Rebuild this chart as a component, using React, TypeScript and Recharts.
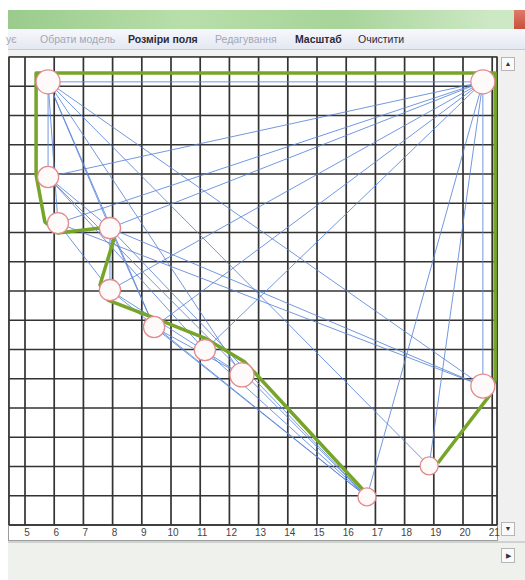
import React from 'react';
import { ScatterChart, Scatter, XAxis, YAxis, ZAxis, CartesianGrid } from 'recharts';

// Graph nodes (grid units)
const nodeX = [5.79, 5.79, 6.13, 7.91, 7.91, 9.42, 11.16, 12.43, 16.71, 18.84, 20.68, 20.68];
const nodeY = [15.15, 11.9, 10.32, 10.15, 8.03, 6.77, 5.98, 5.13, 0.96, 2.02, 4.75, 15.15];
const nodeWeight = [3, 2, 2, 2, 2, 2, 2, 3, 1, 1, 3, 3];

// Graph edges (blue), node index pairs
const edgeFrom = [11, 11, 11, 11, 11, 11, 11, 11, 11, 11, 0, 0, 0, 0, 0, 0, 0, 1, 1, 1, 2, 3, 3, 3, 3, 4, 4, 5, 5, 6, 2];
const edgeTo = [0, 1, 2, 3, 4, 5, 6, 8, 9, 10, 1, 2, 3, 5, 7, 9, 10, 3, 6, 8, 10, 10, 4, 5, 8, 7, 8, 7, 8, 8, 4];

// Route (green path)
const pathX = [16.71, 12.53, 11.16, 9.42, 7.84, 7.57, 8.18, 6.13, 5.68, 5.38, 5.38, 21.1, 21.1, 20.92, 19.14];
const pathY = [1.06, 5.57, 6.39, 7.08, 7.69, 8.21, 10.22, 9.98, 10.36, 11.97, 15.45, 15.45, 4.96, 4.44, 2.12];

const xTicks = [5, 6, 7, 8, 9, 10, 11, 12, 13, 14, 15, 16, 17, 18, 19, 20, 21];
const yTicks = [1, 2, 3, 4, 5, 6, 7, 8, 9, 10, 11, 12, 13, 14, 15];

const menuItems = ['ує', 'Обрати модель', 'Розміри поля', 'Редагування', 'Масштаб', 'Очистити'];
const menuEnabled = [false, false, true, false, true, true];
const menuBold = [false, false, true, false, true, false];
const menuLeft = [6, 40, 128, 215, 295, 358];

const nodes = nodeX.map((x, i) => ({ x, y: nodeY[i], z: nodeWeight[i] }));
const route = pathX.map((x, i) => ({ x, y: pathY[i] }));
const edges = edgeFrom.map((f, i) => [
  { x: nodeX[f], y: nodeY[f] },
  { x: nodeX[edgeTo[i]], y: nodeY[edgeTo[i]] },
]);

const Empty = () => <g />;

const NodeShape = (props: any) => {
  const { cx, cy } = props;
  let r = Number(props.width) / 2;
  if (!isFinite(r) || r <= 0) r = Math.sqrt((Number(props.size) || 350) / Math.PI);
  return <circle cx={cx} cy={cy} r={r} fill="#fffafa" stroke="#e28a8e" strokeWidth={1.3} />;
};

const XTick = (props: any) => {
  const { x, y, payload } = props;
  return (
    <text x={x + 2} y={y + 11} textAnchor="middle" fontSize={10} fill="#444" fontFamily="Liberation Sans, Arial, sans-serif">
      {payload.value}
    </text>
  );
};

const abs = (s: React.CSSProperties): React.CSSProperties => ({ position: 'absolute', boxSizing: 'border-box', ...s });

export default function App() {
  return (
    <div style={{ position: 'absolute', left: 0, top: 0, width: 525, height: 580, background: '#ffffff', overflow: 'hidden', fontFamily: 'Liberation Sans, Arial, sans-serif' }}>
      {/* title bar */}
      <div style={abs({ left: 8, top: 10, width: 508, height: 19, background: 'linear-gradient(to right, #9acb8c, #b8dfaa 35%, #a6d499 65%, #cde8c4 95%)' })} />
      <div style={abs({ left: 514, top: 10, width: 11, height: 19, background: 'linear-gradient(#e07a6a, #c8503e)' })} />
      {/* menu bar */}
      <div style={abs({ left: 8, top: 29, width: 517, height: 21, background: 'linear-gradient(#f7f8fc, #e4e8f1)', borderBottom: '1px solid #c5c9d2' })} />
      {menuItems.map((m, i) => (
        <div key={m} style={abs({ left: menuLeft[i], top: 33, fontSize: 10.5, lineHeight: '13px', whiteSpace: 'nowrap', color: menuEnabled[i] ? '#2a2a3a' : '#a3a6b8', fontWeight: menuBold[i] ? 700 : 400 })}>
          {m}
        </div>
      ))}
      {/* plot frame */}
      <div style={abs({ left: 8, top: 50, width: 517, height: 7, background: '#f2f2f2' })} />
      <div style={abs({ left: 8, top: 56, width: 490, height: 485, background: '#ffffff', border: '1px solid #9c9c9c' })} />
      {/* vertical scrollbar */}
      <div style={abs({ left: 498, top: 50, width: 27, height: 492, background: '#f0f0f0' })} />
      <div style={abs({ left: 501, top: 57, width: 14, height: 14, background: '#fafafa', border: '1px solid #b5b5b5', fontSize: 7, textAlign: 'center', lineHeight: '12px', color: '#333' })}>▲</div>
      <div style={abs({ left: 501, top: 522, width: 14, height: 14, background: '#fafafa', border: '1px solid #b5b5b5', fontSize: 7, textAlign: 'center', lineHeight: '12px', color: '#333' })}>▼</div>
      {/* horizontal scrollbar area */}
      <div style={abs({ left: 8, top: 541, width: 517, height: 39, background: '#eef1ec', borderTop: '2px solid #cfd3cf' })} />
      <div style={abs({ left: 501, top: 548, width: 14, height: 15, background: '#fafafa', border: '1px solid #b5b5b5', fontSize: 7, textAlign: 'center', lineHeight: '13px', color: '#333' })}>▶</div>

      <div style={{ position: 'absolute', left: 0, top: 0 }}>
        <ScatterChart width={525} height={580} margin={{ top: 57, left: 9, right: 28, bottom: 40 }}>
          <CartesianGrid stroke="#333333" strokeWidth={1.7} />
          <XAxis
            type="number"
            dataKey="x"
            domain={[4.452, 21.164]}
            ticks={xTicks}
            allowDataOverflow
            height={15}
            tickLine={false}
            tickSize={0}
            tickMargin={0}
            axisLine={{ stroke: '#333', strokeWidth: 1.5 }}
            tick={<XTick />}
            interval={0}
          />
          <YAxis type="number" dataKey="y" domain={[0, 16]} ticks={yTicks} allowDataOverflow hide width={0} />
          <ZAxis type="number" dataKey="z" domain={[1, 3]} range={[254, 452]} />
          {edges.map((d, i) => (
            <Scatter
              key={'e' + i}
              data={d}
              line={{ stroke: '#5a86d8', strokeWidth: 1, strokeOpacity: 0.85 }}
              lineType="joint"
              shape={<Empty />}
              isAnimationActive={false}
              legendType="none"
            />
          ))}
          <Scatter
            data={route}
            line={{ stroke: '#76a52a', strokeWidth: 3.5, strokeLinejoin: 'round' }}
            lineType="joint"
            shape={<Empty />}
            isAnimationActive={false}
            legendType="none"
          />
          <Scatter data={nodes} shape={<NodeShape />} isAnimationActive={false} legendType="none" />
        </ScatterChart>
      </div>
    </div>
  );
}
